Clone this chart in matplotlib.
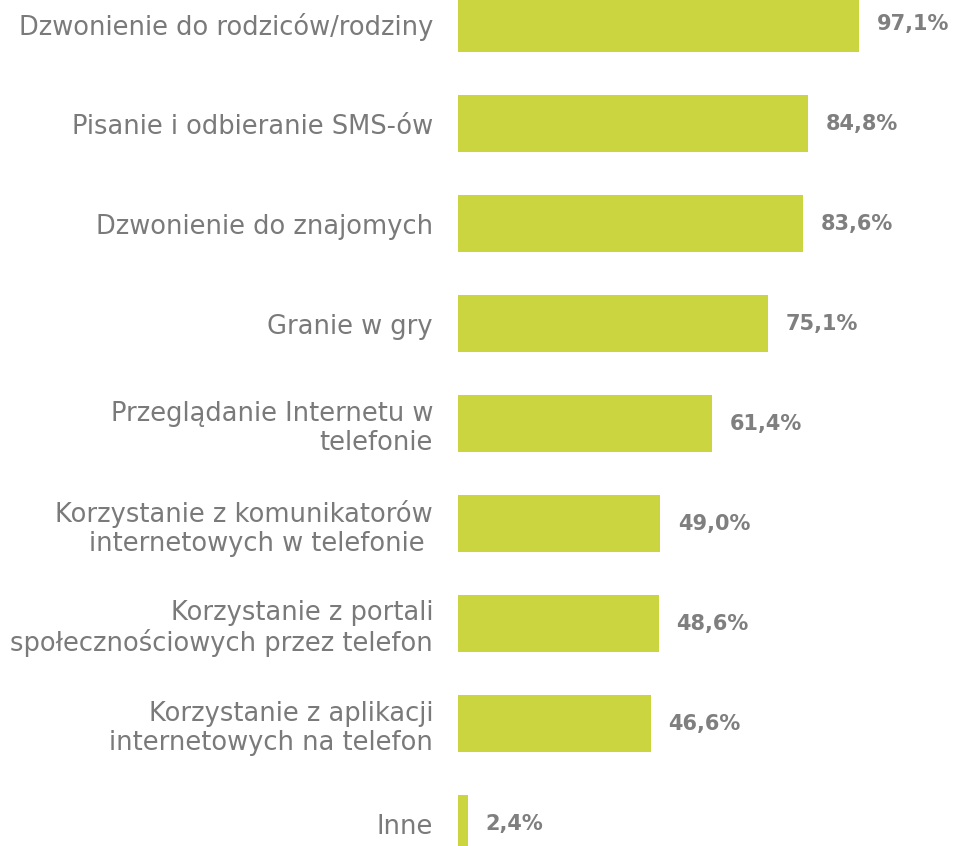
import matplotlib
matplotlib.use("Agg")
import matplotlib.pyplot as plt

categories = [
    "Dzwonienie do rodziców/rodziny",
    "Pisanie i odbieranie SMS-ów",
    "Dzwonienie do znajomych",
    "Granie w gry",
    "Przeglądanie Internetu w\ntelefonie",
    "Korzystanie z komunikatorów\ninternetowych w telefonie ",
    "Korzystanie z portali\nspołecznościowych przez telefon",
    "Korzystanie z aplikacji\ninternetowych na telefon",
    "Inne",
]
values = [97.1, 84.8, 83.6, 75.1, 61.4, 49.0, 48.6, 46.6, 2.4]
value_labels = ["97,1%", "84,8%", "83,6%", "75,1%", "61,4%", "49,0%", "48,6%", "46,6%", "2,4%"]

bar_color = "#cad540"
label_color = "#7a7a7a"
value_color = "#7f7f7f"

fig = plt.figure(figsize=(9.55, 8.46), dpi=100)
ax = fig.add_axes([458 / 955, 0, 1 - 458 / 955, 1])

pos = list(range(len(categories)))
ax.barh(pos, values, height=0.57, color=bar_color)

# value labels just right of each bar
for p, v, lab in zip(pos, values, value_labels):
    ax.text(v + 4.3, p, lab, va="center", ha="left", fontsize=15,
            fontweight="bold", color=value_color)

ax.set_xlim(0, 120.3)
ax.set_ylim(8.22, -0.24)
ax.set_yticks(pos)
ax.set_yticklabels(categories, fontsize=18.5, color=label_color, linespacing=1.15)
ax.tick_params(axis="y", length=0, pad=18)
ax.set_xticks([])
for s in ax.spines.values():
    s.set_visible(False)

fig.savefig("out.png", dpi=100)
